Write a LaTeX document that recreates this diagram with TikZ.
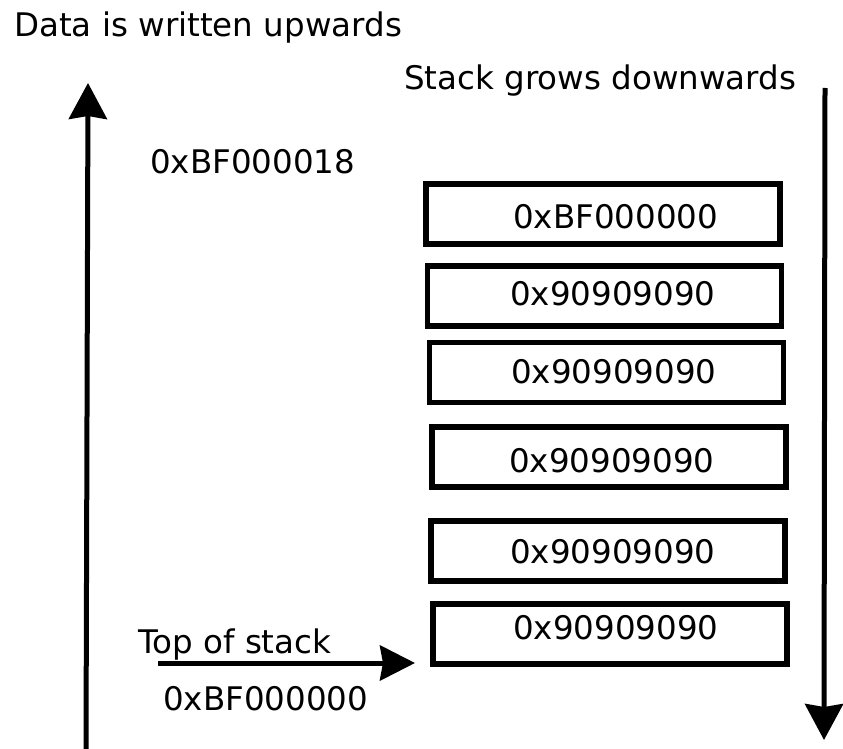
\documentclass[tikz,border=0pt]{standalone}
\usepackage{fontspec}
\setmainfont{DejaVu Sans}
\usetikzlibrary{arrows.meta}
\begin{document}
\begin{tikzpicture}[x=1pt,y=-1pt,
  every node/.style={font=\fontsize{32.5}{39}\selectfont},
  txt/.style={inner sep=0pt,anchor=base west},
  cell/.style={draw,line width=5.5pt,inner sep=0pt,outer sep=0pt,
    minimum width=354pt,minimum height=60pt},
  bigarrow/.style={line width=5pt,-{Stealth[length=36pt,width=38pt,inset=3pt]}}
]
\useasboundingbox (0,0) rectangle (843,749);

% headings
\node[txt] (up-label) at (14,37) {Data is written upwards};
\node[txt] (down-label) at (404,90) {Stack grows downwards};
\node[txt] (high-addr) at (150,173) {0xBF000018};

% stack cells
\node[cell] (c1) at (603,214) {};
\node[cell] (c2) at (604.5,296) {};
\node[cell] (c3) at (606.5,372.5) {};
\node[cell] (c4) at (609,457) {};
\node[cell] (c5) at (608,551) {};
\node[cell] (c6) at (610,634) {};

\node[txt] (t1) at (513,228) {0xBF000000};
\node[txt] (t2) at (510,305) {0x90909090};
\node[txt] (t3) at (511,383) {0x90909090};
\node[txt] (t4) at (509,472) {0x90909090};
\node[txt] (t5) at (510,563) {0x90909090};
\node[txt] (t6) at (513,639) {0x90909090};

% top of stack pointer
\node[txt] (tos) at (138,653) {Top of stack};
\node[txt] (tos-addr) at (163,710) {0xBF000000};
\coordinate (tos-tail) at (158,663);
\coordinate (tos-tip) at (415,663);
\draw[bigarrow,-{Stealth[length=35pt,width=35pt,inset=3pt]}] (tos-tail) -- (tos-tip);

% direction arrows
\coordinate (up-tail) at (86,749);
\coordinate (up-tip) at (88,83);
\draw[bigarrow] (up-tail) -- (up-tip);

\coordinate (down-tail) at (825,88);
\coordinate (down-tip) at (824,740);
\draw[bigarrow] (down-tail) -- (down-tip);
\end{tikzpicture}
\end{document}
